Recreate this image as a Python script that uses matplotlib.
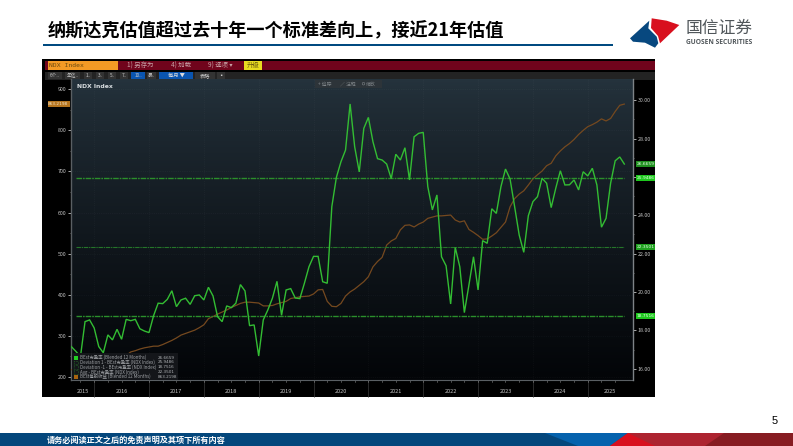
import numpy as np
import matplotlib
matplotlib.use("Agg")
import matplotlib.pyplot as plt
from matplotlib.patches import Polygon, Rectangle, Circle
from matplotlib.transforms import blended_transform_factory

plt.rcParams['font.family'] = ['Noto Sans CJK SC', 'DejaVu Sans']

# ---------- data ----------
TITLE = "纳斯达克估值超过去十年一个标准差向上\uff0c接近21年估值"
FOOTER = "请务必阅读正文之后的免责声明及其项下所有内容"
pe = [17.16,16.91,16.64,18.46,18.55,18.13,17.16,16.84,17.77,17.51,18.06,17.54,
      18.58,18.51,18.58,18.09,17.97,17.89,18.77,19.42,19.40,19.62,20.07,19.24,
      19.59,19.68,19.36,19.81,19.85,19.59,20.25,19.80,18.72,18.46,19.28,19.19,
      19.42,20.39,20.06,18.25,18.29,16.67,18.55,19.07,19.68,20.56,18.79,20.11,
      20.18,19.69,19.66,20.46,21.32,21.86,21.86,20.54,20.46,24.45,25.98,26.79,
      27.40,29.80,27.57,26.26,28.53,29.10,27.83,26.95,26.88,26.67,25.91,27.18,
      26.88,27.52,25.84,28.09,28.27,28.32,25.49,24.28,25.06,21.84,21.37,19.38,
      22.33,21.32,18.93,20.37,21.84,20.11,22.68,22.54,24.34,24.10,25.49,26.41,
      25.89,24.45,22.97,22.07,23.98,24.71,24.97,25.93,25.67,24.40,25.41,26.32,
      25.58,25.59,25.84,25.32,26.27,26.05,26.45,25.58,23.38,23.84,25.67,26.84,
      27.04,26.67]
eps = [218,213,207,205,208,210,214,220,228,233,240,246,
       252,261,264,268,271,273,275,275,279,284,289,295,
       302,306,310,314,320,327,342,347,353,358,363,369,
       374,379,382,382,381,380,373,373,374,378,381,384,
       391,393,395,396,397,402,412,413,384,372,371,379,
       397,407,414,423,432,444,468,481,491,521,531,537,
       558,569,570,565,572,577,586,589,592,592,593,594,
       582,577,580,559,552,544,535,536,543,551,564,577,
       614,634,645,653,667,682,692,701,714,720,738,750,
       760,768,778,790,800,809,814,820,828,823,829,846,
       861,864]
dev_up = 25.9486
dev_dn = 18.7516
avg = 22.3501
years = ['2015','2016','2017','2018','2019','2020','2021','2022','2023','2024','2025']
year_starts = [5,17,29,41,53,65,77,89,101,113]
left_ticks = [200,300,400,500,600,700,800,900]
left_minor = [250,350,450,550,650,750,850]
right_ticks = [16,18,20,22,24,26,28,30]
right_minor = [17,19,21,23,25,27,29]
legend_names = ["BEst市盈率 (Blended 12 Months)",
                "Deviation 1 - BEst市盈率 (NDX Index)",
                "Deviation -1 - BEst市盈率 (NDX Index)",
                "Avg - BEst市盈率 (NDX Index)",
                "BEst每股收益 (Blended 12 Months)"]
legend_vals = ["26.6659","25.9486","18.7516","22.3501","863.2198"]
range_btns = ["6个..","年迄..","1..","3..","5..","7..","10..","最.."]
range_x = [48,65,84,96,108,120,131,147]
range_w = [14,15,8,8,8,8,14,9]

W, H = 793, 446
GREEN = '#33bd33'
DASH = '#2b8f2b'
BROWN = '#75491f'
DD = (0, (4, 0.7, 1.2, 0.7))
fig = plt.figure(figsize=(W/100, H/100), dpi=100, facecolor='white')

# ---------- page canvas in pixels ----------
bg = fig.add_axes([0, 0, 1, 1])
bg.set_xlim(0, W); bg.set_ylim(H, 0); bg.axis('off')

bg.text(48, 31, TITLE, fontsize=13.1, fontweight='bold', color='black', va='center', ha='left')
bg.add_patch(Rectangle((43, 43.5), 570, 2.6, fc='#004a80', ec='none'))

# logo
bg.add_patch(Polygon([(630,38.3),(649.3,20.7),(648.3,28.3),(656.7,36.7),(658.3,43.3),(655,47.7),(645,42.7),(633,41.7)], fc='#07487f', ec='none'))
bg.add_patch(Polygon([(651.7,18.3),(666.7,20.7),(679.3,25),(660,43.3),(658,36),(651,28)], fc='#d8101e', ec='none'))
bg.text(719.5, 28, "国信证券", fontsize=12.1, color='#50565a', ha='center', va='center', fontweight='medium')
bg.text(719.5, 43, "GUOSEN SECURITIES", fontsize=4.8, color='#50565a', fontweight='bold', ha='center', va='center', family='Open Sans')

# terminal screenshot frame
bg.add_patch(Rectangle((42, 59), 613, 338, fc='black', ec='none'))
bg.add_patch(Rectangle((45, 60.5), 610, 9.5, fc='#70041c', ec='none'))
bg.add_patch(Rectangle((48, 60.5), 70, 9.5, fc='#f39a25', ec='none'))
bg.text(49, 65.5, "NDX Index", fontsize=4.6, color='#6b4a10', va='center', family='DejaVu Sans Mono')
for x, s in zip([127, 171, 208], ["1) 另存为", "4) 加载", "9) 选项 ▾"]):
    bg.text(x, 65.3, s, fontsize=4.6, color='#c9a3a8', va='center')
bg.add_patch(Rectangle((244, 60.5), 18, 9.5, fc='#e8dc20', ec='none'))
bg.text(253, 65.3, "升级", fontsize=4.6, color='#6a5a10', va='center', ha='center')
bg.add_patch(Rectangle((45, 71.5), 610, 8, fc='#232323', ec='none'))
for x, w, s in zip(range_x, range_w, range_btns):
    bg.add_patch(Rectangle((x, 72), w, 7, fc='#0a55b0' if s == "10.." else '#333333', ec='none'))
    bg.text(x + w/2, 75.5, s, fontsize=3.4, color='#c8c8c8', va='center', ha='center')
bg.add_patch(Rectangle((159, 72), 34, 7, fc='#0a55b0', ec='none'))
bg.text(176, 75.5, "每月 ▼", fontsize=3.8, color='#dddddd', va='center', ha='center')
bg.add_patch(Rectangle((195, 72), 20, 7, fc='#333333', ec='none'))
bg.text(205, 75.5, "表格", fontsize=3.8, color='#cccccc', va='center', ha='center')
bg.add_patch(Rectangle((217, 72), 8, 7, fc='#333333', ec='none'))
bg.text(221, 75.5, "▪", fontsize=3.8, color='#cccccc', va='center', ha='center')

# plot background gradient
grad = (np.linspace(0, 1, 256)[:, None]) ** 0.8
c0, c1 = np.array([0x25,0x33,0x3d])/255, np.array([0x03,0x05,0x08])/255
img = c0[None, None, :]*(1-grad[:, :, None]) + c1[None, None, :]*grad[:, :, None]
bg.imshow(img, extent=(71, 633, 380, 79), aspect='auto', zorder=1)
bg.set_xlim(0, W); bg.set_ylim(H, 0)

# footer
bg.add_patch(Rectangle((0, 433), 640, 13, fc='#04477c', ec='none'))
bg.add_patch(Polygon([(545,433),(628,433),(610,446),(578,446)], fc='#0562ad', ec='none'))
bg.add_patch(Polygon([(610,446),(628,433),(793,433),(793,446)], fc='#ad2430', ec='none'))
bg.add_patch(Polygon([(610,446),(628,433),(655,446)], fc='#d8101e', ec='none'))
bg.add_patch(Polygon([(705,446),(724,433),(793,433),(793,446)], fc='#871c22', ec='none'))
bg.text(47, 440, FOOTER, fontsize=5.9, fontweight='bold', color='white', va='center', ha='left')
bg.text(775, 421, "5", fontsize=8, color='black', va='center', ha='center', family='Liberation Sans')

# ---------- chart ----------
ax = fig.add_axes([71/W, 1-380/H, (633-71)/W, (380-79)/H])
ax.patch.set_alpha(0)
x = np.arange(len(pe))
ax.set_xlim(-0.07, 122.9)
ax.set_ylim(192.7, 925)
ax2 = ax.twinx()
ax2.set_ylim(15.42, 31.10)
ax2.patch.set_alpha(0)

for a in (ax, ax2):
    for s in a.spines.values():
        s.set_visible(False)
ax.spines['left'].set_visible(True); ax.spines['left'].set_color('#5a5f63'); ax.spines['left'].set_linewidth(1)
ax2.spines['right'].set_visible(True); ax2.spines['right'].set_color('#7d8286'); ax2.spines['right'].set_linewidth(1)
ax.spines['bottom'].set_visible(True); ax.spines['bottom'].set_color('#5a5f63'); ax.spines['bottom'].set_linewidth(0.8)

ax.set_yticks(left_ticks, labels=[str(v) for v in left_ticks])
ax.set_yticks(left_minor, minor=True)
ax.tick_params(axis='y', which='major', colors='#c5c5c5', labelsize=3.8, length=2, width=0.6, pad=1)
ax.tick_params(axis='y', which='minor', color='#8a8a8a', length=1, width=0.5)
ax2.set_yticks(right_ticks, labels=[f"{v:.2f}" if v != 26 else '' for v in right_ticks])
ax2.set_yticks(right_minor, minor=True)
ax2.tick_params(axis='y', which='major', colors='#c5c5c5', labelsize=3.8, length=2, width=0.6, pad=1.5)
ax2.tick_params(axis='y', which='minor', color='#8a8a8a', length=1, width=0.5)

ax.set_xticks(year_starts, labels=[''] * len(year_starts))
mids = [2.5] + [s + 6 for s in year_starts[:-1]] + [117.9]
ax.set_xticks(mids, labels=years, minor=True)
ax.tick_params(axis='x', which='major', length=12, width=0.6, color='#303030')
ax.tick_params(axis='x', which='minor', length=0, labelsize=4, labelcolor='#c5c5c5', pad=6.5)
ax.grid(True, which='major', color='#ffffff', alpha=0.06, lw=0.5, ls=':')
ax.grid(False, which='minor')

trans = blended_transform_factory(ax.transData, ax.transAxes)
for q in range(2, 122, 3):
    ax.plot([q, q], [0, -0.006], transform=trans, color='#8a8a8a', lw=0.4, clip_on=False)
ax.set_xlim(-0.07, 122.9)
ax.set_ylim(192.7, 925)

ax2.plot([1, 121], [dev_up]*2, color=DASH, lw=1.0, ls=DD, zorder=2)
ax2.plot([1, 121], [avg]*2, color='#25752a', lw=0.8, ls=DD, zorder=2)
ax2.plot([1, 121], [dev_dn]*2, color=DASH, lw=1.0, ls=DD, zorder=2)
ax.plot(x, eps, color=BROWN, lw=0.9, zorder=3)
ax2.plot(x, pe, color=GREEN, lw=1.0, zorder=4, solid_joinstyle='miter')

# ---------- overlay: labels and legend above the axes ----------
top = fig.add_axes([0, 0, 1, 1], zorder=10)
top.set_xlim(0, W); top.set_ylim(H, 0); top.axis('off'); top.patch.set_alpha(0)

top.text(77, 86, "NDX Index", fontsize=4.4, fontweight='bold', color='#d8dde0', va='center', family='DejaVu Sans')
top.add_patch(Rectangle((315, 80), 67, 8, fc='#2d3439', ec='none'))
for xp, s in zip([318, 340, 366], ["+ 追踪", "∕ 注释", "缩放"]):
    top.text(xp, 84, s, fontsize=3.5, color='#7e8488', va='center', ha='left',
             family=['Noto Sans CJK SC', 'DejaVu Sans'])
top.add_patch(Circle((363.5, 83.7), 1.3, fc='none', ec='#7e8488', lw=0.4))

tag_series = [pe[-1], dev_up, avg, dev_dn]
tag_txt = [legend_vals[0], legend_vals[1], legend_vals[3], legend_vals[2]]
tag_bg = ['#1f8f1f', '#1ec81e', '#1fa01f', '#1ec81e']
for v, s, c in zip(tag_series, tag_txt, tag_bg):
    yp = 253.7 + (22 - v) * 19.2
    top.add_patch(Rectangle((636, yp-3.2), 19, 6.4, fc=c, ec='none'))
    top.text(636.6, yp, s, fontsize=3.2, color='#e8ffe8', va='center', family='DejaVu Sans')
top.add_patch(Rectangle((47.5, 100.5), 22, 6.8, fc='#b5751f', ec='none'))
top.text(48.2, 104, legend_vals[4], fontsize=3.1, color='#f6e6cc', va='center', family='DejaVu Sans')

# legend panel
top.add_patch(Rectangle((71.5, 353), 106, 26.5, fc='#14161a', ec='none'))
lc = ['#22d022', None, None, None, '#a8640f']
for i, (n, val) in enumerate(zip(legend_names, legend_vals)):
    yp = 357.7 + i * 4.75
    if lc[i]:
        top.add_patch(Rectangle((74, yp-1.8), 3.6, 3.6, fc=lc[i], ec='none'))
    else:
        top.add_patch(Rectangle((74, yp-1.8), 3.6, 3.6, fc='none', ec='#2f9a2f', lw=0.4, ls=':'))
    top.text(80, yp, n, fontsize=3.2, color='#a0a3a7', va='center')
    top.text(158, yp, val, fontsize=3.0, color='#b0b3b6', va='center', family='DejaVu Sans')

fig.savefig('out.png', dpi=100, facecolor='white')
